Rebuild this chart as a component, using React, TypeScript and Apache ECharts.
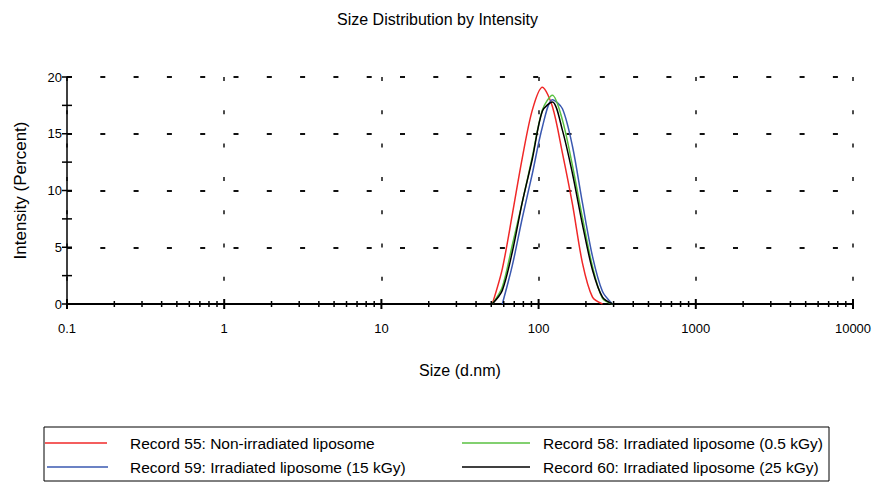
import React, { useEffect, useRef } from "react";
import * as echarts from "echarts";

// Size bins (d.nm) — Malvern log-spaced bins
const sizes = [50.75, 58.77, 68.06, 78.82, 91.28, 105.7, 122.4, 141.8, 164.2, 190.1, 220.2, 255.0, 295.3];

const seriesNames = [
  "Record 55: Non-irradiated liposome",
  "Record 59: Irradiated liposome (15 kGy)",
  "Record 58: Irradiated liposome (0.5 kGy)",
  "Record 60: Irradiated liposome (25 kGy)",
];
const seriesColors = ["#f02828", "#3a58b0", "#58c040", "#000000"];

// Intensity (%) per bin, null = not drawn
const rec55 = [0, 3.1, 7.9, 12.9, 17.1, 19.1, 17.4, 13.3, 8.8, 3.6, 0.6, 0, null];
const rec59 = [null, 0, 3.4, 7.6, 11.5, 15.6, 18.0, 17.2, 13.9, 8.9, 4.2, 1.1, 0];
const rec58 = [0, 1.5, 5.2, 9.0, 13.0, 17.1, 18.4, 16.2, 12.2, 7.6, 3.3, 0.5, 0];
const rec60 = [0, 1.2, 4.6, 9.0, 12.8, 17.0, 17.8, 15.3, 11.5, 7.0, 3.0, 0.6, 0];
const seriesValues = [rec55, rec59, rec58, rec60];

const xDecades = [0.1, 1, 10, 100, 1000, 10000];
const xMinorMultipliers = [2, 3, 4, 5, 6, 7, 8, 9];
const yTicks = [0, 2.5, 5, 7.5, 10, 12.5, 15, 17.5, 20];

const FONT = "Liberation Sans, Arial, sans-serif";

export default function App() {
  const ref = useRef<HTMLDivElement>(null);
  useEffect(() => {
    if (!ref.current) return;
    const chart = echarts.init(ref.current, undefined, { renderer: "svg" });

    const tickData: number[][] = [];
    xDecades.forEach((d, i) => {
      tickData.push([d, 0, 1]);
      if (i < xDecades.length - 1) {
        xMinorMultipliers.forEach((m) => tickData.push([d * m, 0, 0]));
      }
    });
    yTicks.forEach((v) => tickData.push([0.1, v, 2]));

    const lineSeries = seriesNames.map((name, i) => ({
      name,
      type: "line",
      data: sizes
        .map((s, j) => [s, seriesValues[i][j]])
        .filter((p) => p[1] !== null),
      showSymbol: false,
      symbol: "none",
      smooth: 0.3,
      lineStyle: { color: seriesColors[i], width: 1.5 },
      itemStyle: { color: seriesColors[i] },
      z: 3 + i,
    }));

    const legendPos = [
      { lx1: 45, lx2: 107, tx: 130, y: 443 },
      { lx1: 47, lx2: 108, tx: 130, y: 467 },
      { lx1: 462, lx2: 530, tx: 543, y: 443 },
      { lx1: 462, lx2: 530, tx: 543, y: 467 },
    ];
    const legendGraphics: any[] = [
      {
        type: "rect",
        shape: { x: 44, y: 427, width: 785, height: 54 },
        style: { fill: "none", stroke: "#000", lineWidth: 1 },
      },
    ];
    seriesNames.forEach((name, i) => {
      const p = legendPos[i];
      legendGraphics.push({
        type: "line",
        shape: { x1: p.lx1, y1: p.y, x2: p.lx2, y2: p.y },
        style: { stroke: seriesColors[i], lineWidth: 1.5 },
      });
      legendGraphics.push({
        type: "text",
        x: p.tx,
        y: p.y,
        style: {
          text: name,
          fill: "#000",
          font: `15.5px ${FONT}`,
          verticalAlign: "middle",
          align: "left",
        },
      });
    });

    chart.setOption({
      animation: false,
      backgroundColor: "#fff",
      title: {
        text: "Size Distribution by Intensity",
        left: "center",
        top: 6,
        textStyle: { fontSize: 16, fontWeight: "normal", color: "#000", fontFamily: FONT },
      },
      grid: { left: 67, right: 22, top: 77, bottom: 180, containLabel: false },
      xAxis: {
        type: "log",
        logBase: 10,
        min: 0.1,
        max: 10000,
        name: "Size (d.nm)",
        nameLocation: "middle",
        nameGap: 58,
        nameTextStyle: { fontSize: 16, color: "#000", fontFamily: FONT },
        axisLine: { show: true, lineStyle: { color: "#000", width: 2 } },
        axisTick: { show: false },
        axisLabel: {
          color: "#000",
          fontSize: 13,
          fontFamily: FONT,
          margin: 18,
          formatter: (v: number) => String(Math.round(v * 10) / 10),
        },
        splitLine: {
          show: true,
          lineStyle: { color: "#111", width: 1.5, type: [4, 29.3] },
        },
      },
      yAxis: {
        type: "value",
        min: 0,
        max: 20,
        interval: 5,
        name: "Intensity (Percent)",
        nameLocation: "middle",
        nameGap: 38,
        nameTextStyle: { fontSize: 17, color: "#000", fontFamily: FONT },
        axisLine: { show: true, lineStyle: { color: "#000", width: 1.5 } },
        axisTick: { show: false },
        axisLabel: { color: "#000", fontSize: 13, fontFamily: FONT, margin: 5 },
        splitLine: {
          show: true,
          lineStyle: { color: "#111", width: 2, type: [5, 28.3] },
        },
      },
      graphic: legendGraphics,
      series: [
        ...lineSeries,
        {
          type: "custom",
          silent: true,
          clip: false,
          z: 10,
          data: tickData,
          encode: { x: 0, y: 1 },
          renderItem: (params: any, api: any) => {
            const kind = api.value(2);
            const pt = api.coord([api.value(0), api.value(1)]);
            let shape;
            if (kind === 2) {
              shape = { x1: pt[0] - 5, y1: pt[1], x2: pt[0] + 5, y2: pt[1] };
            } else if (kind === 1) {
              shape = { x1: pt[0], y1: pt[1] - 5, x2: pt[0], y2: pt[1] + 5 };
            } else {
              shape = { x1: pt[0], y1: pt[1] - 3, x2: pt[0], y2: pt[1] + 3 };
            }
            return {
              type: "line",
              shape,
              style: { stroke: "#000", lineWidth: kind === 1 ? 2 : 1.5 },
            };
          },
        },
      ],
    });
    return () => chart.dispose();
  }, []);
  return (
    <div
      ref={ref}
      style={{ position: "fixed", left: 0, top: 0, width: 875, height: 484 }}
    />
  );
}
